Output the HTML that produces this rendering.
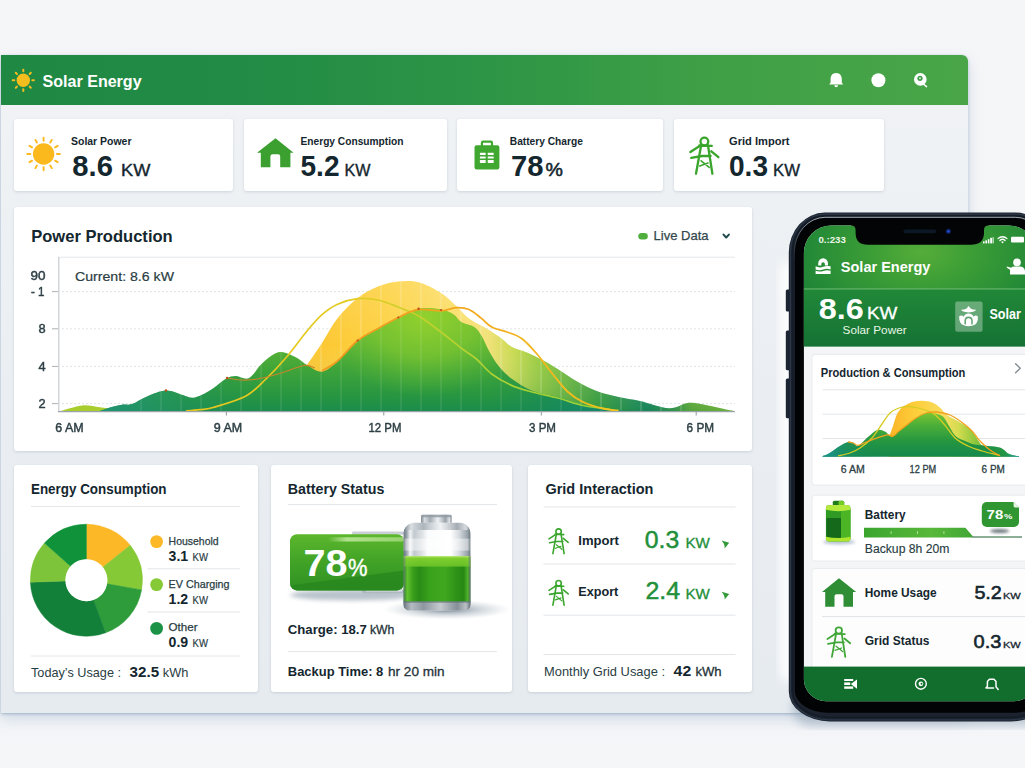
<!DOCTYPE html>
<html lang="en">
<head>
<meta charset="utf-8">
<title>Solar Energy Dashboard</title>
<style>
*{margin:0;padding:0;box-sizing:border-box}
html,body{width:1025px;height:768px;overflow:hidden;background:#f3f4f7}
body{font-family:"Liberation Sans",sans-serif;color:#14262e}
#stage{position:relative;width:1025px;height:768px;overflow:hidden;
  background:linear-gradient(180deg,#f5f6f8 0%,#f4f5f7 70%,#f3f5f8 94%,#f4f6f8 100%)}
#win{position:absolute;left:1px;top:54.5px;width:967px;height:658.5px;background:linear-gradient(180deg,#f1f3f5 0%,#eef1f4 22%,#eaeef2 55%,#e6ebf0 100%);
  border-radius:0 6px 0 0;box-shadow:0 1px 3px rgba(135,160,185,.7),0 6px 14px rgba(150,172,196,.38),1px 0 0 rgba(255,255,255,.9)}
#hdr{position:absolute;left:0;top:0;width:967px;height:50px;border-radius:0 6px 0 0;
  background:linear-gradient(90deg,#1f8944 0%,#228b45 25%,#2d9546 50%,#40a046 75%,#49a548 100%)}
.card{position:absolute;background:#fff;border-radius:3px;box-shadow:0 1px 3px rgba(120,135,155,.28)}
svg{position:absolute;left:0;top:0;overflow:visible}
text{font-family:"Liberation Sans",sans-serif}
.d{fill:#14262e}
.sb{font-weight:bold}
</style>
</head>
<body>
<div id="stage">
  <div id="win">
    <div id="hdr"></div>
  </div>
  <!-- stat cards -->
  <div class="card" style="left:14px;top:119px;width:219px;height:72px"></div>
  <div class="card" style="left:244px;top:119px;width:203px;height:72px"></div>
  <div class="card" style="left:457px;top:119px;width:206px;height:72px"></div>
  <div class="card" style="left:674px;top:119px;width:210px;height:72px"></div>
  <!-- chart panel -->
  <div class="card" style="left:14px;top:207px;width:738px;height:244px"></div>
  <!-- bottom panels -->
  <div class="card" style="left:14px;top:465px;width:244px;height:227px"></div>
  <div class="card" style="left:271px;top:465px;width:241px;height:227px"></div>
  <div class="card" style="left:528px;top:465px;width:224px;height:227px"></div>

  <svg id="main" width="1025" height="768" viewBox="0 0 1025 768">
    <defs></defs>
    <!--HEADER-->
    <g id="hdr-sun" transform="translate(23.3,80.3)"><g stroke="#f6bd1e" stroke-width="2" stroke-linecap="round"><line x1="0.00" y1="-9.00" x2="0.00" y2="-10.60"/><line x1="6.36" y1="-6.36" x2="7.50" y2="-7.50"/><line x1="9.00" y1="-0.00" x2="10.60" y2="-0.00"/><line x1="6.36" y1="6.36" x2="7.50" y2="7.50"/><line x1="0.00" y1="9.00" x2="0.00" y2="10.60"/><line x1="-6.36" y1="6.36" x2="-7.50" y2="7.50"/><line x1="-9.00" y1="0.00" x2="-10.60" y2="0.00"/><line x1="-6.36" y1="-6.36" x2="-7.50" y2="-7.50"/></g><circle r="6.7" fill="#f6bd1e"/></g>
    <text x="42.6" y="87" font-size="16.5" font-weight="bold" fill="#fff" textLength="99" lengthAdjust="spacingAndGlyphs">Solar Energy</text>
    <!-- bell -->
    <path d="M836.2 73 c-3.8 0 -5.6 2.9 -5.6 6.2 v3.2 l-1.3 2.1 h13.8 l-1.3 -2.1 v-3.2 c0 -3.3 -1.8 -6.2 -5.6 -6.2 z M834.4 85.2 h3.6 v0.4 a1.8 1.6 0 0 1 -3.6 0 z" fill="#fff"/>
    <circle cx="878.4" cy="80.2" r="7" fill="#fff"/>
    <g>
      <circle cx="920.3" cy="79.4" r="6.3" fill="#fff"/>
      <path d="M923.5 84 l3 2.6" stroke="#fff" stroke-width="1.6" stroke-linecap="round"/>
      <circle cx="920" cy="78.3" r="2.6" fill="#3d9d47"/>
      <circle cx="920" cy="78.3" r="1" fill="#d8efd8"/>
    </g>
    <!--STATS-->
    <g id="sun1" transform="translate(43.6,154)"><g stroke="#fbb91e" stroke-width="1.9" stroke-linecap="round"><line x1="0.00" y1="-13.30" x2="0.00" y2="-16.30"/><line x1="6.65" y1="-11.52" x2="8.15" y2="-14.12"/><line x1="11.52" y1="-6.65" x2="14.12" y2="-8.15"/><line x1="13.30" y1="-0.00" x2="16.30" y2="-0.00"/><line x1="11.52" y1="6.65" x2="14.12" y2="8.15"/><line x1="6.65" y1="11.52" x2="8.15" y2="14.12"/><line x1="0.00" y1="13.30" x2="0.00" y2="16.30"/><line x1="-6.65" y1="11.52" x2="-8.15" y2="14.12"/><line x1="-11.52" y1="6.65" x2="-14.12" y2="8.15"/><line x1="-13.30" y1="0.00" x2="-16.30" y2="0.00"/><line x1="-11.52" y1="-6.65" x2="-14.12" y2="-8.15"/><line x1="-6.65" y1="-11.52" x2="-8.15" y2="-14.12"/></g><circle r="10.7" fill="#fbb91e"/></g>
    <text class="d sb" x="71" y="145.3" font-size="11" textLength="60.5" lengthAdjust="spacingAndGlyphs">Solar Power</text>
    <text class="d sb" x="72.3" y="175.8" font-size="29" textLength="40.6" lengthAdjust="spacingAndGlyphs">8.6</text>
    <text class="d" stroke="#14262e" stroke-width=".35" x="121" y="175.8" font-size="16" textLength="29.3" lengthAdjust="spacingAndGlyphs">KW</text>

    <!-- house -->
    <path d="M275.5 138.3 L293.6 152.8 H290.4 V167.2 H280.2 V156.4 q0 -2.100 -2.100 -2.100 h-5.600 q-2.100 0 -2.100 2.100 V167.2 H260.8 V152.8 H257 Z" fill="#3ba02f"/>
    <text class="d sb" x="300.5" y="145.3" font-size="11" textLength="103" lengthAdjust="spacingAndGlyphs">Energy Consumption</text>
    <text class="d sb" x="300.5" y="175.8" font-size="29" textLength="39" lengthAdjust="spacingAndGlyphs">5.2</text>
    <text class="d" stroke="#14262e" stroke-width=".35" x="344.5" y="175.8" font-size="16" textLength="26" lengthAdjust="spacingAndGlyphs">KW</text>

    <!-- battery case icon -->
    <g>
      <rect x="474.5" y="145.3" width="24.9" height="24.1" rx="2.2" fill="#40a730"/>
      <path d="M481.9 146 v-3 a1.300 1.300 0 0 1 1.300 -1.300 h7.500 a1.300 1.300 0 0 1 1.300 1.300 v3" fill="none" stroke="#40a730" stroke-width="2.2"/>
      <g fill="#fff">
        <rect x="479.9" y="152.700" width="5.800" height="2.200" rx=".4"/><rect x="487.700" y="152.700" width="6" height="2.200" rx=".4"/>
        <rect x="479.9" y="156.400" width="5.800" height="2.200" rx=".4"/><rect x="487.700" y="156.400" width="6" height="2.200" rx=".4"/>
        <rect x="479.9" y="160" width="5.800" height="2.900" rx=".4"/><rect x="487.700" y="160" width="6" height="2.900" rx=".4"/>
      </g>
    </g>
    <text class="d sb" x="509.8" y="145.3" font-size="11" textLength="73" lengthAdjust="spacingAndGlyphs">Battery Charge</text>
    <text class="d sb" x="511" y="175.8" font-size="29" textLength="32.5" lengthAdjust="spacingAndGlyphs">78</text>
    <text class="d" x="545.6" y="175.8" font-size="17.5" stroke="#14262e" stroke-width=".5" textLength="17.4" lengthAdjust="spacingAndGlyphs">%</text>

    <!-- tower icon -->
    <g fill="none" stroke="#3aa52c" stroke-width="2.3" stroke-linecap="round" stroke-linejoin="round">
      <circle cx="704.4" cy="141.5" r="3.9"/>
      <path d="M699.3 145.5 L711.8 145.9 M700.4 145.5 L690.4 152.0 M711.3 151.3 L718.4 157.2 M691.2 157.9 L701.9 156.0 L710.6 156.0"/>
      <path d="M701.1 145.5 L696.0 173.7 M708.0 145.5 L712.4 173.7"/>
      <path d="M699.7 165.9 L708.0 163.0 M701.1 160.8 L709.2 167.4" stroke-width="1.61"/>
    </g>
    <text class="d sb" x="729" y="145.3" font-size="11" textLength="60.5" lengthAdjust="spacingAndGlyphs">Grid Import</text>
    <text class="d sb" x="729" y="175.8" font-size="29" textLength="39" lengthAdjust="spacingAndGlyphs">0.3</text>
    <text class="d" stroke="#14262e" stroke-width=".35" x="773" y="175.8" font-size="16" textLength="27" lengthAdjust="spacingAndGlyphs">KW</text>
    <!--CHART-->
    <defs>
      <linearGradient id="gMain" gradientUnits="userSpaceOnUse" x1="0" y1="305" x2="0" y2="411">
        <stop offset="0" stop-color="#88cb30"/><stop offset=".3" stop-color="#64b934"/><stop offset=".58" stop-color="#42a639"/><stop offset=".84" stop-color="#299740"/><stop offset="1" stop-color="#1b8c4c"/>
      </linearGradient>
      <linearGradient id="gTeal" gradientUnits="userSpaceOnUse" x1="100" y1="0" x2="640" y2="0">
        <stop offset="0" stop-color="#1f937a" stop-opacity=".9"/><stop offset=".12" stop-color="#25966a" stop-opacity=".55"/><stop offset=".3" stop-color="#1c8f50" stop-opacity="0"/><stop offset=".72" stop-color="#178a58" stop-opacity="0"/><stop offset=".9" stop-color="#13876a" stop-opacity=".8"/><stop offset="1" stop-color="#13876a" stop-opacity=".9"/>
      </linearGradient>
      <linearGradient id="gBack" gradientUnits="userSpaceOnUse" x1="300" y1="0" x2="735" y2="0">
        <stop offset="0" stop-color="#fcc52e"/><stop offset=".2" stop-color="#fdd244"/><stop offset=".36" stop-color="#fbdf6c"/><stop offset=".43" stop-color="#f3e27a"/><stop offset=".49" stop-color="#c9da52"/><stop offset=".56" stop-color="#8fc83c"/><stop offset=".68" stop-color="#45a73e"/><stop offset=".8" stop-color="#1d8d62"/><stop offset=".86" stop-color="#3f9f50"/><stop offset=".9" stop-color="#72b83a"/><stop offset="1" stop-color="#8cc63c"/>
      </linearGradient>
      <linearGradient id="gBackV" gradientUnits="userSpaceOnUse" x1="0" y1="280" x2="0" y2="411">
        <stop offset="0" stop-color="#fff" stop-opacity=".12"/><stop offset=".5" stop-color="#fff" stop-opacity="0"/><stop offset="1" stop-color="#0a6a40" stop-opacity=".25"/>
      </linearGradient>
      <linearGradient id="gLineY" gradientUnits="userSpaceOnUse" x1="165" y1="0" x2="610" y2="0">
        <stop offset="0" stop-color="#e6c51c"/><stop offset=".45" stop-color="#e2cc24"/><stop offset=".62" stop-color="#b9d230"/><stop offset="1" stop-color="#8ccf38"/>
      </linearGradient>
      <radialGradient id="gLime" gradientUnits="userSpaceOnUse" cx="425" cy="318" r="105" gradientTransform="translate(425 318) scale(1 .75) translate(-425 -318)">
        <stop offset="0" stop-color="#93d12d" stop-opacity=".95"/><stop offset=".5" stop-color="#7cc530" stop-opacity=".75"/><stop offset="1" stop-color="#5ab534" stop-opacity="0"/>
      </radialGradient>
      <linearGradient id="gLineO" gradientUnits="userSpaceOnUse" x1="322" y1="0" x2="620" y2="0">
        <stop offset="0" stop-color="#ee9a20"/><stop offset=".45" stop-color="#f2a61e"/><stop offset=".75" stop-color="#f3b81c"/><stop offset="1" stop-color="#efc620"/>
      </linearGradient>
      <clipPath id="cMain"><path d="M100.0 411.0 C101.7 410.4 106.3 408.5 110.0 407.5 C113.7 406.5 118.3 405.4 122.0 404.8 C125.7 404.2 127.8 405.4 132.0 404.0 C136.2 402.6 141.3 398.6 147.0 396.4 C152.7 394.2 160.1 390.8 166.0 390.6 C171.9 390.4 178.0 393.8 182.7 395.0 C187.4 396.2 189.3 398.5 194.0 397.7 C198.7 396.9 205.3 393.2 210.6 390.0 C215.9 386.8 221.8 381.0 226.0 378.7 C230.2 376.4 232.2 376.1 236.0 376.0 C239.8 375.9 244.5 380.2 248.7 378.3 C252.9 376.4 257.3 368.2 261.0 364.5 C264.7 360.8 267.6 358.1 271.0 356.0 C274.4 353.9 277.2 351.7 281.5 352.0 C285.8 352.3 292.4 355.5 296.7 357.7 C300.9 359.9 302.8 362.7 307.0 365.0 C311.2 367.3 316.9 372.3 322.0 371.7 C327.1 371.1 331.4 366.7 337.4 361.5 C343.3 356.3 350.9 346.2 357.7 340.7 C364.5 335.2 371.2 332.3 378.0 328.5 C384.8 324.7 391.5 321.2 398.3 317.9 C405.1 314.6 411.5 310.1 418.6 308.7 C425.7 307.3 435.2 308.5 441.0 309.5 C446.8 310.5 450.3 312.5 453.6 314.6 C456.9 316.7 457.6 319.9 461.0 322.0 C464.4 324.1 470.6 324.7 474.0 327.0 C477.4 329.3 479.0 332.0 481.5 336.0 C484.0 340.0 486.1 345.9 489.0 351.0 C491.9 356.1 495.2 361.9 499.0 366.6 C502.8 371.3 506.5 375.0 512.0 379.0 C517.5 383.0 524.4 387.7 532.0 390.7 C539.6 393.7 549.2 394.7 557.7 397.0 C566.2 399.3 574.6 402.6 583.0 404.7 C591.4 406.8 598.5 408.6 608.0 409.7 C617.5 410.8 634.7 410.8 640.0 411.0 L640.0 411.2 L100.0 411.2 Z"/></clipPath>
      <clipPath id="cBack"><path d="M307.0 365.0 C309.5 361.3 317.0 350.7 322.0 343.0 C327.0 335.3 331.1 326.5 337.0 319.0 C342.9 311.5 350.9 303.4 357.7 298.0 C364.5 292.6 371.3 289.3 378.0 286.6 C384.7 283.9 391.2 282.3 398.0 281.6 C404.8 280.9 411.4 280.4 418.6 282.3 C425.8 284.2 434.8 289.1 441.0 293.0 C447.2 296.9 451.3 301.5 456.0 305.7 C460.7 309.9 463.9 314.6 469.0 318.4 C474.1 322.2 481.1 325.1 486.6 328.5 C492.1 331.9 497.8 335.6 502.0 338.7 C506.2 341.8 507.8 344.7 512.0 347.0 C516.2 349.3 521.9 350.4 527.0 352.6 C532.1 354.8 537.3 357.3 542.4 360.0 C547.5 362.7 551.8 365.3 557.7 369.0 C563.6 372.7 571.3 378.2 578.0 382.0 C584.7 385.8 591.2 389.0 598.0 391.5 C604.8 394.0 611.6 395.4 618.6 397.0 C625.6 398.6 631.6 399.1 640.0 401.0 C648.4 402.9 660.9 408.0 669.0 408.3 C677.1 408.6 682.3 403.3 688.8 402.8 C695.3 402.3 700.9 404.1 708.0 405.4 C715.1 406.7 727.2 409.7 731.7 410.6 C736.2 411.5 734.5 410.9 735.0 411.0 L735.0 411.2 L307.0 411.2 Z"/></clipPath>
    </defs>
    <text class="d sb" x="31.2" y="241.6" font-size="16.5" textLength="141.5" lengthAdjust="spacingAndGlyphs">Power Production</text>
    <rect x="638.3" y="233" width="9.5" height="6.6" rx="3.3" fill="#4fae3c"/>
    <text x="653.6" y="240.4" font-size="13" fill="#33474d" stroke="#33474d" stroke-width=".25" textLength="55" lengthAdjust="spacingAndGlyphs">Live Data</text>
    <path d="M723.5 234.6 l2.7 2.9 l2.7 -2.9" fill="none" stroke="#1f4a4c" stroke-width="2" stroke-linecap="round" stroke-linejoin="round"/>
    <line x1="58.5" y1="257.2" x2="735" y2="257.2" stroke="#e4e7ea" stroke-width="1"/>
    <g stroke="#e1e4e7" stroke-width="1" stroke-dasharray="2 2">
      <line x1="62" y1="291.6" x2="735" y2="291.6"/><line x1="62" y1="328.8" x2="735" y2="328.8"/>
      <line x1="62" y1="366.4" x2="735" y2="366.4"/><line x1="62" y1="403.6" x2="735" y2="403.6"/>
    </g>
    <g stroke="#aab1b6" stroke-width="1">
      <line x1="52" y1="291.6" x2="58" y2="291.6"/><line x1="52" y1="328.8" x2="58" y2="328.8"/>
      <line x1="52" y1="366.4" x2="58" y2="366.4"/><line x1="52" y1="403.6" x2="58" y2="403.6"/>
    </g>
    <line x1="58.8" y1="257" x2="58.8" y2="412" stroke="#c7ccd0" stroke-width="1.2"/>
    <g font-size="12.8" fill="#22353b" stroke="#22353b" stroke-width=".45" opacity=".95">
      <text x="30.6" y="280.2" textLength="15" lengthAdjust="spacingAndGlyphs">90</text>
      <text x="31" y="295.8" textLength="13.5" lengthAdjust="spacingAndGlyphs">- 1</text>
      <text x="38.6" y="333.3">8</text><text x="38.6" y="371">4</text><text x="38.6" y="408.2">2</text>
    </g>
    <text x="75" y="280.5" font-size="13" fill="#2a3d43" stroke="#2a3d43" stroke-width=".2" textLength="99" lengthAdjust="spacingAndGlyphs">Current: 8.6 kW</text>
    <!-- areas -->
    <path d="M61.0 411.0 C62.5 410.6 66.2 409.2 70.0 408.3 C73.8 407.4 79.0 405.5 84.0 405.3 C89.0 405.1 95.3 406.7 100.0 407.3 C104.7 407.9 107.8 408.4 112.0 409.0 C116.2 409.6 122.8 410.7 125.0 411.0 L125.0 411.2 L61.0 411.2 Z" fill="#a9cd2e"/>
    <path d="M307.0 365.0 C309.5 361.3 317.0 350.7 322.0 343.0 C327.0 335.3 331.1 326.5 337.0 319.0 C342.9 311.5 350.9 303.4 357.7 298.0 C364.5 292.6 371.3 289.3 378.0 286.6 C384.7 283.9 391.2 282.3 398.0 281.6 C404.8 280.9 411.4 280.4 418.6 282.3 C425.8 284.2 434.8 289.1 441.0 293.0 C447.2 296.9 451.3 301.5 456.0 305.7 C460.7 309.9 463.9 314.6 469.0 318.4 C474.1 322.2 481.1 325.1 486.6 328.5 C492.1 331.9 497.8 335.6 502.0 338.7 C506.2 341.8 507.8 344.7 512.0 347.0 C516.2 349.3 521.9 350.4 527.0 352.6 C532.1 354.8 537.3 357.3 542.4 360.0 C547.5 362.7 551.8 365.3 557.7 369.0 C563.6 372.7 571.3 378.2 578.0 382.0 C584.7 385.8 591.2 389.0 598.0 391.5 C604.8 394.0 611.6 395.4 618.6 397.0 C625.6 398.6 631.6 399.1 640.0 401.0 C648.4 402.9 660.9 408.0 669.0 408.3 C677.1 408.6 682.3 403.3 688.8 402.8 C695.3 402.3 700.9 404.1 708.0 405.4 C715.1 406.7 727.2 409.7 731.7 410.6 C736.2 411.5 734.5 410.9 735.0 411.0 L735.0 411.2 L307.0 411.2 Z" fill="url(#gBack)"/>
    <path d="M307.0 365.0 C309.5 361.3 317.0 350.7 322.0 343.0 C327.0 335.3 331.1 326.5 337.0 319.0 C342.9 311.5 350.9 303.4 357.7 298.0 C364.5 292.6 371.3 289.3 378.0 286.6 C384.7 283.9 391.2 282.3 398.0 281.6 C404.8 280.9 411.4 280.4 418.6 282.3 C425.8 284.2 434.8 289.1 441.0 293.0 C447.2 296.9 451.3 301.5 456.0 305.7 C460.7 309.9 463.9 314.6 469.0 318.4 C474.1 322.2 481.1 325.1 486.6 328.5 C492.1 331.9 497.8 335.6 502.0 338.7 C506.2 341.8 507.8 344.7 512.0 347.0 C516.2 349.3 521.9 350.4 527.0 352.6 C532.1 354.8 537.3 357.3 542.4 360.0 C547.5 362.7 551.8 365.3 557.7 369.0 C563.6 372.7 571.3 378.2 578.0 382.0 C584.7 385.8 591.2 389.0 598.0 391.5 C604.8 394.0 611.6 395.4 618.6 397.0 C625.6 398.6 631.6 399.1 640.0 401.0 C648.4 402.9 660.9 408.0 669.0 408.3 C677.1 408.6 682.3 403.3 688.8 402.8 C695.3 402.3 700.9 404.1 708.0 405.4 C715.1 406.7 727.2 409.7 731.7 410.6 C736.2 411.5 734.5 410.9 735.0 411.0 L735.0 411.2 L307.0 411.2 Z" fill="url(#gBackV)"/>
    <g clip-path="url(#cBack)" stroke="#fff" stroke-opacity=".3" stroke-width="1"><line x1="141" y1="275" x2="141" y2="411"/><line x1="161" y1="275" x2="161" y2="411"/><line x1="181" y1="275" x2="181" y2="411"/><line x1="201" y1="275" x2="201" y2="411"/><line x1="221" y1="275" x2="221" y2="411"/><line x1="241" y1="275" x2="241" y2="411"/><line x1="261" y1="275" x2="261" y2="411"/><line x1="281" y1="275" x2="281" y2="411"/><line x1="301" y1="275" x2="301" y2="411"/><line x1="321" y1="275" x2="321" y2="411"/><line x1="341" y1="275" x2="341" y2="411"/><line x1="361" y1="275" x2="361" y2="411"/><line x1="381" y1="275" x2="381" y2="411"/><line x1="401" y1="275" x2="401" y2="411"/><line x1="421" y1="275" x2="421" y2="411"/><line x1="441" y1="275" x2="441" y2="411"/><line x1="461" y1="275" x2="461" y2="411"/><line x1="481" y1="275" x2="481" y2="411"/><line x1="501" y1="275" x2="501" y2="411"/><line x1="521" y1="275" x2="521" y2="411"/><line x1="541" y1="275" x2="541" y2="411"/><line x1="561" y1="275" x2="561" y2="411"/><line x1="581" y1="275" x2="581" y2="411"/><line x1="601" y1="275" x2="601" y2="411"/><line x1="621" y1="275" x2="621" y2="411"/><line x1="641" y1="275" x2="641" y2="411"/><line x1="661" y1="275" x2="661" y2="411"/><line x1="681" y1="275" x2="681" y2="411"/></g>
    <path d="M100.0 411.0 C101.7 410.4 106.3 408.5 110.0 407.5 C113.7 406.5 118.3 405.4 122.0 404.8 C125.7 404.2 127.8 405.4 132.0 404.0 C136.2 402.6 141.3 398.6 147.0 396.4 C152.7 394.2 160.1 390.8 166.0 390.6 C171.9 390.4 178.0 393.8 182.7 395.0 C187.4 396.2 189.3 398.5 194.0 397.7 C198.7 396.9 205.3 393.2 210.6 390.0 C215.9 386.8 221.8 381.0 226.0 378.7 C230.2 376.4 232.2 376.1 236.0 376.0 C239.8 375.9 244.5 380.2 248.7 378.3 C252.9 376.4 257.3 368.2 261.0 364.5 C264.7 360.8 267.6 358.1 271.0 356.0 C274.4 353.9 277.2 351.7 281.5 352.0 C285.8 352.3 292.4 355.5 296.7 357.7 C300.9 359.9 302.8 362.7 307.0 365.0 C311.2 367.3 316.9 372.3 322.0 371.7 C327.1 371.1 331.4 366.7 337.4 361.5 C343.3 356.3 350.9 346.2 357.7 340.7 C364.5 335.2 371.2 332.3 378.0 328.5 C384.8 324.7 391.5 321.2 398.3 317.9 C405.1 314.6 411.5 310.1 418.6 308.7 C425.7 307.3 435.2 308.5 441.0 309.5 C446.8 310.5 450.3 312.5 453.6 314.6 C456.9 316.7 457.6 319.9 461.0 322.0 C464.4 324.1 470.6 324.7 474.0 327.0 C477.4 329.3 479.0 332.0 481.5 336.0 C484.0 340.0 486.1 345.9 489.0 351.0 C491.9 356.1 495.2 361.9 499.0 366.6 C502.8 371.3 506.5 375.0 512.0 379.0 C517.5 383.0 524.4 387.7 532.0 390.7 C539.6 393.7 549.2 394.7 557.7 397.0 C566.2 399.3 574.6 402.6 583.0 404.7 C591.4 406.8 598.5 408.6 608.0 409.7 C617.5 410.8 634.7 410.8 640.0 411.0 L640.0 411.2 L100.0 411.2 Z" fill="url(#gMain)"/>
    <path d="M100.0 411.0 C101.7 410.4 106.3 408.5 110.0 407.5 C113.7 406.5 118.3 405.4 122.0 404.8 C125.7 404.2 127.8 405.4 132.0 404.0 C136.2 402.6 141.3 398.6 147.0 396.4 C152.7 394.2 160.1 390.8 166.0 390.6 C171.9 390.4 178.0 393.8 182.7 395.0 C187.4 396.2 189.3 398.5 194.0 397.7 C198.7 396.9 205.3 393.2 210.6 390.0 C215.9 386.8 221.8 381.0 226.0 378.7 C230.2 376.4 232.2 376.1 236.0 376.0 C239.8 375.9 244.5 380.2 248.7 378.3 C252.9 376.4 257.3 368.2 261.0 364.5 C264.7 360.8 267.6 358.1 271.0 356.0 C274.4 353.9 277.2 351.7 281.5 352.0 C285.8 352.3 292.4 355.5 296.7 357.7 C300.9 359.9 302.8 362.7 307.0 365.0 C311.2 367.3 316.9 372.3 322.0 371.7 C327.1 371.1 331.4 366.7 337.4 361.5 C343.3 356.3 350.9 346.2 357.7 340.7 C364.5 335.2 371.2 332.3 378.0 328.5 C384.8 324.7 391.5 321.2 398.3 317.9 C405.1 314.6 411.5 310.1 418.6 308.7 C425.7 307.3 435.2 308.5 441.0 309.5 C446.8 310.5 450.3 312.5 453.6 314.6 C456.9 316.7 457.6 319.9 461.0 322.0 C464.4 324.1 470.6 324.7 474.0 327.0 C477.4 329.3 479.0 332.0 481.5 336.0 C484.0 340.0 486.1 345.9 489.0 351.0 C491.9 356.1 495.2 361.9 499.0 366.6 C502.8 371.3 506.5 375.0 512.0 379.0 C517.5 383.0 524.4 387.7 532.0 390.7 C539.6 393.7 549.2 394.7 557.7 397.0 C566.2 399.3 574.6 402.6 583.0 404.7 C591.4 406.8 598.5 408.6 608.0 409.7 C617.5 410.8 634.7 410.8 640.0 411.0 L640.0 411.2 L100.0 411.2 Z" fill="url(#gLime)"/>
    <path d="M100.0 411.0 C101.7 410.4 106.3 408.5 110.0 407.5 C113.7 406.5 118.3 405.4 122.0 404.8 C125.7 404.2 127.8 405.4 132.0 404.0 C136.2 402.6 141.3 398.6 147.0 396.4 C152.7 394.2 160.1 390.8 166.0 390.6 C171.9 390.4 178.0 393.8 182.7 395.0 C187.4 396.2 189.3 398.5 194.0 397.7 C198.7 396.9 205.3 393.2 210.6 390.0 C215.9 386.8 221.8 381.0 226.0 378.7 C230.2 376.4 232.2 376.1 236.0 376.0 C239.8 375.9 244.5 380.2 248.7 378.3 C252.9 376.4 257.3 368.2 261.0 364.5 C264.7 360.8 267.6 358.1 271.0 356.0 C274.4 353.9 277.2 351.7 281.5 352.0 C285.8 352.3 292.4 355.5 296.7 357.7 C300.9 359.9 302.8 362.7 307.0 365.0 C311.2 367.3 316.9 372.3 322.0 371.7 C327.1 371.1 331.4 366.7 337.4 361.5 C343.3 356.3 350.9 346.2 357.7 340.7 C364.5 335.2 371.2 332.3 378.0 328.5 C384.8 324.7 391.5 321.2 398.3 317.9 C405.1 314.6 411.5 310.1 418.6 308.7 C425.7 307.3 435.2 308.5 441.0 309.5 C446.8 310.5 450.3 312.5 453.6 314.6 C456.9 316.7 457.6 319.9 461.0 322.0 C464.4 324.1 470.6 324.7 474.0 327.0 C477.4 329.3 479.0 332.0 481.5 336.0 C484.0 340.0 486.1 345.9 489.0 351.0 C491.9 356.1 495.2 361.9 499.0 366.6 C502.8 371.3 506.5 375.0 512.0 379.0 C517.5 383.0 524.4 387.7 532.0 390.7 C539.6 393.7 549.2 394.7 557.7 397.0 C566.2 399.3 574.6 402.6 583.0 404.7 C591.4 406.8 598.5 408.6 608.0 409.7 C617.5 410.8 634.7 410.8 640.0 411.0 L640.0 411.2 L100.0 411.2 Z" fill="url(#gTeal)"/>
    <g clip-path="url(#cMain)" stroke="#fff" stroke-opacity=".16" stroke-width="1"><line x1="141" y1="275" x2="141" y2="411"/><line x1="161" y1="275" x2="161" y2="411"/><line x1="181" y1="275" x2="181" y2="411"/><line x1="201" y1="275" x2="201" y2="411"/><line x1="221" y1="275" x2="221" y2="411"/><line x1="241" y1="275" x2="241" y2="411"/><line x1="261" y1="275" x2="261" y2="411"/><line x1="281" y1="275" x2="281" y2="411"/><line x1="301" y1="275" x2="301" y2="411"/><line x1="321" y1="275" x2="321" y2="411"/><line x1="341" y1="275" x2="341" y2="411"/><line x1="361" y1="275" x2="361" y2="411"/><line x1="381" y1="275" x2="381" y2="411"/><line x1="401" y1="275" x2="401" y2="411"/><line x1="421" y1="275" x2="421" y2="411"/><line x1="441" y1="275" x2="441" y2="411"/><line x1="461" y1="275" x2="461" y2="411"/><line x1="481" y1="275" x2="481" y2="411"/><line x1="501" y1="275" x2="501" y2="411"/><line x1="521" y1="275" x2="521" y2="411"/><line x1="541" y1="275" x2="541" y2="411"/><line x1="561" y1="275" x2="561" y2="411"/><line x1="581" y1="275" x2="581" y2="411"/><line x1="601" y1="275" x2="601" y2="411"/><line x1="621" y1="275" x2="621" y2="411"/><line x1="641" y1="275" x2="641" y2="411"/><line x1="661" y1="275" x2="661" y2="411"/><line x1="681" y1="275" x2="681" y2="411"/></g>
    <path d="M186.0 411.0 C188.3 410.8 195.5 410.2 200.0 409.6 C204.5 409.0 205.3 409.8 213.0 407.5 C220.7 405.2 237.2 400.8 246.0 396.0 C254.8 391.2 259.2 385.5 266.0 379.0 C272.8 372.5 279.8 365.0 286.6 357.0 C293.4 349.0 301.1 338.1 307.0 331.0 C312.9 323.9 317.0 319.0 322.0 314.6 C327.0 310.2 331.1 307.1 337.0 304.4 C342.9 301.7 350.9 299.3 357.7 298.6 C364.5 297.9 371.3 298.6 378.0 300.0 C384.7 301.4 391.2 304.3 398.0 307.0 C404.8 309.7 411.4 311.8 418.6 316.0 C425.8 320.2 433.9 326.7 441.0 332.0 C448.1 337.3 455.1 343.5 461.0 348.0 C466.9 352.5 471.3 354.7 476.4 359.0 C481.5 363.3 485.8 369.6 491.7 374.0 C497.6 378.4 505.3 382.6 512.0 385.6 C518.7 388.6 524.4 389.9 532.0 392.0 C539.6 394.1 549.2 395.8 557.7 398.0 C566.2 400.2 574.3 403.6 583.0 405.5 C591.7 407.4 605.5 408.8 610.0 409.5" fill="none" stroke="url(#gLineY)" stroke-width="1.7"/>
    <path d="M227.0 378.0 C229.2 378.3 235.2 379.8 240.0 380.0 C244.8 380.2 249.1 380.5 256.0 379.3 C262.9 378.1 273.5 375.3 281.5 373.0 C289.5 370.7 298.4 366.3 304.0 365.5 C309.6 364.7 313.2 367.6 315.0 368.0" fill="none" stroke="#c8862a" stroke-width="1.1"/>
    <path d="M322.0 371.0 C324.6 369.3 331.4 366.1 337.4 361.0 C343.3 355.9 350.9 345.9 357.7 340.5 C364.5 335.1 371.2 332.3 378.0 328.5 C384.8 324.7 391.6 320.7 398.3 317.5 C405.0 314.3 410.9 310.6 418.0 309.5 C425.1 308.4 434.7 311.1 441.0 310.8 C447.3 310.5 451.3 307.9 456.0 307.7 C460.7 307.5 464.8 307.7 469.0 309.5 C473.2 311.3 477.7 315.5 481.5 318.4 C485.3 321.3 487.4 324.7 491.7 327.0 C495.9 329.3 501.9 330.1 507.0 332.0 C512.0 333.9 517.0 335.0 522.0 338.7 C527.0 342.4 531.9 348.1 537.0 354.0 C542.1 359.9 547.4 367.7 552.6 374.0 C557.8 380.3 562.9 387.3 568.0 392.0 C573.1 396.7 577.2 399.2 583.0 402.0 C588.8 404.8 597.1 407.1 603.0 408.5 C608.9 409.9 616.0 410.2 618.6 410.5" fill="none" stroke="url(#gLineO)" stroke-width="1.8"/>
    <g fill="#c24a1c"><circle cx="166" cy="390.4" r="1.2"/><circle cx="227" cy="378" r="1.2"/><circle cx="357.7" cy="340.5" r="1.1"/><circle cx="398.3" cy="317.5" r="1.1"/><circle cx="418.6" cy="308.8" r="1.2"/><circle cx="441" cy="310" r="1.1"/></g>
    <line x1="58" y1="411.6" x2="735" y2="411.6" stroke="#9aa3a8" stroke-width="1.4"/>
    <g stroke="#8f999e" stroke-width="1"><line x1="226.4" y1="412" x2="226.4" y2="415.5"/><line x1="383.8" y1="412" x2="383.8" y2="415.5"/><line x1="541.3" y1="412" x2="541.3" y2="415.5"/><line x1="696.2" y1="412" x2="696.2" y2="415.5"/></g>
    <g font-size="12.8" fill="#22353b" stroke="#22353b" stroke-width=".45" opacity=".95">
      <text x="55.3" y="432" textLength="28.5" lengthAdjust="spacingAndGlyphs">6 AM</text>
      <text x="213.8" y="432" textLength="28.5" lengthAdjust="spacingAndGlyphs">9 AM</text>
      <text x="368.5" y="432" textLength="33" lengthAdjust="spacingAndGlyphs">12 PM</text>
      <text x="529" y="432" textLength="27" lengthAdjust="spacingAndGlyphs">3 PM</text>
      <text x="686.6" y="432" textLength="27.5" lengthAdjust="spacingAndGlyphs">6 PM</text>
    </g>
    <!--CONSUMPTION-->
    <text class="d sb" x="31" y="494.4" font-size="15" textLength="135.5" lengthAdjust="spacingAndGlyphs">Energy Consumption</text>
    <g stroke="#e3e6e9" stroke-width="1">
      <line x1="31" y1="506.4" x2="240" y2="506.4"/>
      <line x1="147.5" y1="568.8" x2="240" y2="568.8"/>
      <line x1="147.5" y1="612" x2="240" y2="612"/>
      <line x1="31" y1="656" x2="240" y2="656"/>
    </g>
    <path d="M86.40 524.20 A56 56 0 0 1 130.23 545.34 L102.83 567.13 A21 21 0 0 0 86.40 559.20 Z" fill="#fdb827" stroke="#fdb827" stroke-width=".5"/><path d="M130.23 545.34 A56 56 0 0 1 141.55 589.92 L107.08 583.85 A21 21 0 0 0 102.83 567.13 Z" fill="#86c936" stroke="#86c936" stroke-width=".5"/><path d="M141.55 589.92 A56 56 0 0 1 105.55 632.82 L93.58 599.93 A21 21 0 0 0 107.08 583.85 Z" fill="#2e9c3b" stroke="#2e9c3b" stroke-width=".5"/><path d="M105.55 632.82 A56 56 0 0 1 30.43 582.15 L65.41 580.93 A21 21 0 0 0 93.58 599.93 Z" fill="#128038" stroke="#128038" stroke-width=".5"/><path d="M30.43 582.15 A56 56 0 0 1 44.46 543.09 L70.67 566.28 A21 21 0 0 0 65.41 580.93 Z" fill="#7ec43a" stroke="#7ec43a" stroke-width=".5"/><path d="M44.46 543.09 A56 56 0 0 1 86.40 524.20 L86.40 559.20 A21 21 0 0 0 70.67 566.28 Z" fill="#0f9239" stroke="#0f9239" stroke-width=".5"/>
    <circle cx="86.4" cy="580.2" r="21" fill="#fff"/>
    <circle cx="156.6" cy="541.6" r="6.4" fill="#fdb827"/>
    <circle cx="156.6" cy="584.6" r="6.4" fill="#86c936"/>
    <circle cx="156.6" cy="628.4" r="6.4" fill="#1c9247"/>
    <g fill="#2a3d43" font-size="11" stroke="#2a3d43" stroke-width=".25">
      <text x="168.6" y="545" textLength="50" lengthAdjust="spacingAndGlyphs">Household</text>
      <text x="168.6" y="588.4" textLength="61" lengthAdjust="spacingAndGlyphs">EV Charging</text>
      <text x="168.6" y="630.8" textLength="29" lengthAdjust="spacingAndGlyphs">Other</text>
    </g>
    <g class="d sb" font-size="14.5">
      <text x="168.6" y="561" textLength="19.6" lengthAdjust="spacingAndGlyphs">3.1</text>
      <text x="168.6" y="604.2" textLength="19.6" lengthAdjust="spacingAndGlyphs">1.2</text>
      <text x="168.6" y="647" textLength="19.6" lengthAdjust="spacingAndGlyphs">0.9</text>
    </g>
    <g fill="#2a3d43" font-size="10.5" stroke="#2a3d43" stroke-width=".2">
      <text x="192.6" y="561" textLength="15.4" lengthAdjust="spacingAndGlyphs">KW</text>
      <text x="192.6" y="604.2" textLength="15.4" lengthAdjust="spacingAndGlyphs">KW</text>
      <text x="192.6" y="647" textLength="15.4" lengthAdjust="spacingAndGlyphs">KW</text>
    </g>
    <text x="31" y="677.4" font-size="13.5" fill="#2a3d43" textLength="90" lengthAdjust="spacingAndGlyphs">Today’s Usage :</text>
    <text class="d sb" x="129.6" y="677.4" font-size="15" textLength="29.5" lengthAdjust="spacingAndGlyphs">32.5</text>
    <text x="162.8" y="677.4" font-size="13" fill="#2a3d43" textLength="25.6" lengthAdjust="spacingAndGlyphs">kWh</text>
    <!--BATTERY-->
    <defs>
      <linearGradient id="bLabel" x1="0" y1="0" x2="0" y2="1">
        <stop offset="0" stop-color="#5cb72c"/><stop offset=".45" stop-color="#43a427"/><stop offset="1" stop-color="#2f9122"/>
      </linearGradient>
      <linearGradient id="bGloss" x1="0" y1="0" x2="1" y2="0">
        <stop offset="0" stop-color="#d8f3b8" stop-opacity="0"/><stop offset=".25" stop-color="#d0f0b0" stop-opacity=".75"/><stop offset="1" stop-color="#bfe89a" stop-opacity=".6"/>
      </linearGradient>
      <linearGradient id="bMetal" x1="0" y1="0" x2="1" y2="0">
        <stop offset="0" stop-color="#7d878e"/><stop offset=".12" stop-color="#d8dde1"/><stop offset=".3" stop-color="#a4adb4"/><stop offset=".55" stop-color="#eef1f3"/><stop offset=".8" stop-color="#9aa3aa"/><stop offset=".93" stop-color="#dfe3e6"/><stop offset="1" stop-color="#7b858c"/>
      </linearGradient>
      <linearGradient id="bGlass" x1="0" y1="0" x2="1" y2="0">
        <stop offset="0" stop-color="#7d8890"/><stop offset=".05" stop-color="#99a3ab"/><stop offset=".1" stop-color="#f2f4f6"/><stop offset=".16" stop-color="#c2c9ce"/><stop offset=".28" stop-color="#dfe3e6"/><stop offset=".36" stop-color="#fafbfc"/><stop offset=".7" stop-color="#ffffff"/><stop offset=".82" stop-color="#d9dee2"/><stop offset=".92" stop-color="#aab3ba"/><stop offset="1" stop-color="#7f8a92"/>
      </linearGradient>
      <linearGradient id="bLiq" x1="0" y1="0" x2="1" y2="0">
        <stop offset="0" stop-color="#2a8c18"/><stop offset=".06" stop-color="#62c22e"/><stop offset=".14" stop-color="#3a9f1c"/><stop offset=".24" stop-color="#2a8c16"/><stop offset=".4" stop-color="#3aa31c"/><stop offset=".62" stop-color="#3fa81e"/><stop offset=".8" stop-color="#2c9016"/><stop offset=".9" stop-color="#288814"/><stop offset=".96" stop-color="#52b62a"/><stop offset="1" stop-color="#246f14"/>
      </linearGradient>
      <linearGradient id="bLiqTop" x1="0" y1="0" x2="0" y2="1">
        <stop offset="0" stop-color="#8bd631"/><stop offset="1" stop-color="#6cc428"/>
      </linearGradient>
      <radialGradient id="bShadow" cx=".5" cy=".5" r=".5">
        <stop offset="0" stop-color="#4f6272" stop-opacity=".8"/><stop offset=".45" stop-color="#6f8292" stop-opacity=".38"/><stop offset="1" stop-color="#9fb0bb" stop-opacity="0"/>
      </radialGradient>
      <clipPath id="bBody"><path d="M403.4 534.600 a12 12 0 0 1 12 -12 h43.200 a12 12 0 0 1 12 12 V604 a6.600 6.600 0 0 1 -6.600 6.600 H410 a6.600 6.600 0 0 1 -6.600 -6.600 Z"/></clipPath>
      <filter id="blur2" x="-20%" y="-50%" width="140%" height="200%"><feGaussianBlur stdDeviation="2.2"/></filter>
    </defs>
    <text class="d sb" x="287.8" y="494.4" font-size="15" textLength="96.5" lengthAdjust="spacingAndGlyphs">Battery Status</text>
    <g stroke="#e3e6e9" stroke-width="1">
      <line x1="287.8" y1="504.6" x2="497" y2="504.6"/>
      <line x1="287.8" y1="651.6" x2="497" y2="651.6"/>
    </g>
    <!-- shadows -->
    <ellipse cx="447" cy="609.500" rx="64" ry="10" fill="url(#bShadow)"/>
    <ellipse cx="352" cy="595" rx="62" ry="5.500" fill="#8093a2" opacity=".55" filter="url(#blur2)"/>
    <!-- connector bars -->
    <rect x="352" y="531.4" width="52" height="3.4" rx="1.4" fill="#c9d0d5"/>
    <rect x="362" y="589.6" width="42" height="4" rx="1.8" fill="#aeb8bf"/>
    <rect x="366" y="590.2" width="36" height="1.2" fill="#e9edf0"/>
    <!-- label -->
    <rect x="290" y="534.2" width="114" height="56.2" rx="7" fill="url(#bLabel)"/>
    <path d="M290 585.5 L404 570.5 V583.4 a7 7 0 0 1 -7 7 H297 a7 7 0 0 1 -7 -7 Z" fill="#27861d" opacity=".75"/>
    <rect x="328" y="537.2" width="76" height="4.4" rx="2.2" fill="url(#bGloss)"/>
    <text x="303.4" y="576.3" font-size="37" font-weight="bold" fill="#fff" textLength="44" lengthAdjust="spacingAndGlyphs">78</text>
    <text x="348" y="576.3" font-size="23" fill="#fff" stroke="#fff" stroke-width=".4" textLength="19.5" lengthAdjust="spacingAndGlyphs">%</text>
    <!-- jar -->
    <rect x="421" y="514.8" width="30.6" height="10" rx="2.4" fill="url(#bMetal)"/>
    <rect x="421" y="514.8" width="30.6" height="2.4" rx="1.2" fill="#8e989f" opacity=".8"/>
    <g clip-path="url(#bBody)">
      <rect x="403.4" y="522.6" width="67.2" height="88" fill="url(#bGlass)"/>
      <rect x="403.4" y="522.6" width="67.2" height="7.4" fill="url(#bMetal)" opacity=".85"/>
      <rect x="403.4" y="538.6" width="67.2" height="12" fill="#fff" opacity=".45"/>
      <rect x="403.4" y="556.6" width="67.2" height="45.4" fill="url(#bLiq)"/>
      <rect x="403.4" y="556.6" width="67.2" height="10" fill="url(#bLiqTop)" opacity=".9"/>
      <rect x="403.4" y="556.2" width="67.2" height="1.2" fill="#b6ea6a" opacity=".9"/>
      <rect x="403.4" y="601.6" width="67.2" height="9.2" fill="url(#bMetal)"/><rect x="403.4" y="601.6" width="67.2" height="9.2" fill="#4a5862" opacity=".25"/>
      <rect x="403.4" y="601.2" width="67.2" height="1.6" fill="#56666f" opacity=".55"/>
      <rect x="403.4" y="522.6" width="2" height="88" fill="#6e7a83" opacity=".55"/>
      <rect x="468.6" y="522.6" width="2" height="88" fill="#6e7a83" opacity=".55"/>
    </g>
    <text class="d sb" x="287.8" y="634.4" font-size="13.5" textLength="79" lengthAdjust="spacingAndGlyphs">Charge: 18.7</text>
    <text x="370" y="634.4" font-size="12.5" fill="#1f3238" stroke="#1f3238" stroke-width=".3" textLength="24.4" lengthAdjust="spacingAndGlyphs">kWh</text>
    <text class="d sb" x="287.8" y="675.6" font-size="13.5" textLength="95.5" lengthAdjust="spacingAndGlyphs">Backup Time: 8</text>
    <text x="388" y="675.6" font-size="13.5" fill="#1f3238" stroke="#1f3238" stroke-width=".3" textLength="56.6" lengthAdjust="spacingAndGlyphs">hr 20 min</text>
    <!--GRID-->
    <text class="d sb" x="545.4" y="494.4" font-size="15" textLength="108" lengthAdjust="spacingAndGlyphs">Grid Interaction</text>
    <g stroke="#e3e6e9" stroke-width="1">
      <line x1="543.5" y1="507" x2="735.6" y2="507"/>
      <line x1="543.5" y1="564" x2="735.6" y2="564"/>
      <line x1="543.5" y1="615.2" x2="735.6" y2="615.2"/>
      <line x1="543.5" y1="654.5" x2="735.6" y2="654.5"/>
    </g>
    <g fill="none" stroke="#3aa52c" stroke-width="1.6" stroke-linecap="round" stroke-linejoin="round">
      <circle cx="558.6" cy="531.6" r="2.7"/>
      <path d="M555.1 534.3 L563.7 534.6 M555.9 534.3 L549.0 538.8 M563.3 538.3 L568.2 542.3 M549.6 542.8 L556.9 541.5 L562.8 541.5"/>
      <path d="M556.3 534.3 L552.9 553.6 M561.1 534.3 L564.1 553.6"/>
      <path d="M555.4 548.3 L561.1 546.3 M556.3 544.8 L561.9 549.3" stroke-width="1.12"/>
    </g>
    <g fill="none" stroke="#3aa52c" stroke-width="1.6" stroke-linecap="round" stroke-linejoin="round">
      <circle cx="558.6" cy="583.2" r="2.7"/>
      <path d="M555.1 585.9 L563.7 586.2 M555.9 585.9 L549.0 590.4 M563.3 589.9 L568.2 593.9 M549.6 594.4 L556.9 593.1 L562.8 593.1"/>
      <path d="M556.3 585.9 L552.9 605.2 M561.1 585.9 L564.1 605.2"/>
      <path d="M555.4 599.9 L561.1 597.9 M556.3 596.4 L561.9 600.9" stroke-width="1.12"/>
    </g>
    <g class="d sb" font-size="13.5">
      <text x="578.3" y="545" textLength="40.6" lengthAdjust="spacingAndGlyphs">Import</text>
      <text x="578.3" y="595.8" textLength="40" lengthAdjust="spacingAndGlyphs">Export</text>
    </g>
    <g fill="#22903a" font-size="24.5" stroke="#22903a" stroke-width=".5">
      <text x="644.8" y="547.6" textLength="34.4" lengthAdjust="spacingAndGlyphs">0.3</text>
      <text x="645.4" y="598.6" textLength="34.6" lengthAdjust="spacingAndGlyphs">2.4</text>
    </g>
    <g fill="#22903a" font-size="14.5" stroke="#22903a" stroke-width=".3">
      <text x="685.4" y="547.6" textLength="24.4" lengthAdjust="spacingAndGlyphs">KW</text>
      <text x="685.4" y="598.6" textLength="24.4" lengthAdjust="spacingAndGlyphs">KW</text>
    </g>
    <path d="M721.6 540.6 l7.6 2.2 l-4.6 5.6 q0.6 -3.6 -3 -7.8 z" fill="#2f9a36"/>
    <path d="M721.6 591.8 l7.6 2.2 l-4.6 5.6 q0.6 -3.6 -3 -7.8 z" fill="#2f9a36"/>
    <text x="544" y="676" font-size="13.5" fill="#2a3d43" textLength="121" lengthAdjust="spacingAndGlyphs">Monthly Grid Usage :</text>
    <text class="d sb" x="673.6" y="676" font-size="14.5" textLength="17.6" lengthAdjust="spacingAndGlyphs">42</text>
    <text x="695.4" y="676" font-size="13.5" fill="#1f3238" stroke="#1f3238" stroke-width=".3" textLength="26.2" lengthAdjust="spacingAndGlyphs">kWh</text>
  </svg>

  <!--PHONE-->
  <svg id="phone" width="1025" height="768" viewBox="0 0 1025 768">
    <defs>
      <radialGradient id="pHdr" gradientUnits="userSpaceOnUse" cx="922" cy="252" r="150" gradientTransform="translate(922 252) scale(1 .62) translate(-922 -252)">
        <stop offset="0" stop-color="#55ad39"/><stop offset=".35" stop-color="#3b9d36"/><stop offset=".75" stop-color="#258a37"/><stop offset="1" stop-color="#1c7e37"/>
      </radialGradient>
      <linearGradient id="pHdr2" gradientUnits="userSpaceOnUse" x1="0" y1="289" x2="0" y2="346.4">
        <stop offset="0" stop-color="#218838"/><stop offset="1" stop-color="#157234"/>
      </linearGradient>
      <linearGradient id="pRim" x1="0" y1="0" x2="1" y2="0">
        <stop offset="0" stop-color="#4a5561"/><stop offset=".015" stop-color="#252c35"/><stop offset=".04" stop-color="#10151b"/><stop offset="1" stop-color="#05070a"/>
      </linearGradient>
      <linearGradient id="pTopLine" gradientUnits="userSpaceOnUse" x1="0" y1="217" x2="0" y2="262">
        <stop offset="0" stop-color="#a9b2ba" stop-opacity=".95"/><stop offset=".35" stop-color="#8e98a2" stop-opacity=".55"/><stop offset="1" stop-color="#55606c" stop-opacity="0"/>
      </linearGradient>
      <clipPath id="pScreen"><path d="M803.900 253 a27.500 27.500 0 0 1 27.500 -27.500 h177.300 a27.500 27.500 0 0 1 27.500 27.500 V679.200 a22 22 0 0 1 -22 22 H825.900 a22 22 0 0 1 -22 -22 Z"/></clipPath>
      <linearGradient id="mMain" gradientUnits="userSpaceOnUse" x1="0" y1="412" x2="0" y2="457">
        <stop offset="0" stop-color="#7cc632"/><stop offset=".3" stop-color="#4bae38"/><stop offset=".65" stop-color="#259640"/><stop offset="1" stop-color="#15884e"/>
      </linearGradient>
      <linearGradient id="mTeal" gradientUnits="userSpaceOnUse" x1="822" y1="0" x2="1019" y2="0">
        <stop offset="0" stop-color="#1c98a0" stop-opacity=".95"/><stop offset=".12" stop-color="#1a8f70" stop-opacity=".55"/><stop offset=".3" stop-color="#1c8f50" stop-opacity="0"/><stop offset=".78" stop-color="#178a58" stop-opacity="0"/><stop offset=".92" stop-color="#2fa13c" stop-opacity=".5"/><stop offset="1" stop-color="#28a0b4" stop-opacity=".95"/>
      </linearGradient>
      <linearGradient id="mBack" gradientUnits="userSpaceOnUse" x1="889" y1="0" x2="1000" y2="0">
        <stop offset="0" stop-color="#fbb425"/><stop offset=".25" stop-color="#fdcf3c"/><stop offset=".5" stop-color="#f7dc60"/><stop offset=".62" stop-color="#d6dc50"/><stop offset=".78" stop-color="#8cc63c"/><stop offset="1" stop-color="#3da340"/>
      </linearGradient>
      <linearGradient id="pBar" gradientUnits="userSpaceOnUse" x1="864" y1="0" x2="975" y2="0">
        <stop offset="0" stop-color="#3aa52e"/><stop offset=".6" stop-color="#58b83a"/><stop offset="1" stop-color="#3fa535"/>
      </linearGradient>
      <linearGradient id="pBatt" x1="0" y1="0" x2="1" y2="0">
        <stop offset="0" stop-color="#6fc022"/><stop offset=".18" stop-color="#a6e23a"/><stop offset=".4" stop-color="#3d9b22"/><stop offset=".75" stop-color="#2f8a1e"/><stop offset="1" stop-color="#1f6e18"/>
      </linearGradient>
      <filter id="pblur" x="-30%" y="-100%" width="160%" height="300%"><feGaussianBlur stdDeviation="1.6"/></filter>
      <filter id="pshadow" x="-10%" y="-10%" width="120%" height="120%"><feGaussianBlur stdDeviation="5"/></filter>
    </defs>
    <!-- phone glow / shadow -->
    <rect x="792" y="690" width="263" height="36" rx="20" fill="#7f93a6" opacity=".45" filter="url(#pshadow)"/>
    <rect x="779" y="262" width="30" height="420" rx="10" fill="#ffffff" opacity=".8" filter="url(#pshadow)"/>
    <!-- side buttons -->
    <rect x="785.800" y="289.400" width="5" height="22.200" rx="1.500" fill="#1a2433"/>
    <rect x="785.800" y="330.400" width="5" height="39.800" rx="1.500" fill="#1a2433"/>
    <rect x="785.800" y="378.400" width="5" height="39.900" rx="1.500" fill="#1a2433"/>
    <!-- frame -->
    <path d="M788.8 252.6 a36 40 0 0 1 36 -40 H1015.8 a36 40 0 0 1 36 40 V691.4 a41 30 0 0 1 -41 30 H829.8 a41 30 0 0 1 -41 -30 Z" fill="#1c232e"/>
    <path d="M790.4 252.6 a34.4 38.4 0 0 1 34.4 -38.4 H1015.8 a34.4 38.4 0 0 1 34.4 38.4 V691.4 a39.4 28.4 0 0 1 -39.4 28.4 H829.8 a39.4 28.4 0 0 1 -39.4 -28.4 Z" fill="none" stroke="#2b3849" stroke-width="1.2"/>
    <path d="M792.6 252.4 a32.4 36.4 0 0 1 32.4 -36.4 H1015.6 a32.4 36.4 0 0 1 32.4 36.4 V691.0 a37.4 26.4 0 0 1 -37.4 26.4 H830.0 a37.4 26.4 0 0 1 -37.4 -26.4 Z" fill="none" stroke="#141c28" stroke-width="1.6"/>
    <path d="M794.8 252.0 a30.4 34.4 0 0 1 30.4 -34.4 H1015.4 a30.4 34.4 0 0 1 30.4 34.4 V690.3 a33 22.5 0 0 1 -33 22.5 H827.8 a33 22.5 0 0 1 -33 -22.5 Z" fill="#020304"/>
    <path d="M794.4 252.1 a30.8 34.8 0 0 1 30.8 -34.8 H1015.4 a30.8 34.8 0 0 1 30.8 34.8 V494.8 a33 22.5 0 0 1 -33 22.5 H827.4 a33 22.5 0 0 1 -33 -22.5 Z" fill="none" stroke="url(#pTopLine)" stroke-width="1"/>
    <!-- screen -->
    <g clip-path="url(#pScreen)">
      <rect x="803" y="225" width="234" height="477" fill="#f3f5f6"/>
      <rect x="803" y="225" width="234" height="121.4" fill="url(#pHdr)"/>
      <rect x="803" y="289" width="234" height="57.4" fill="url(#pHdr2)"/>
      <rect x="803" y="288.4" width="234" height="1.1" fill="#7fc47f" opacity=".75"/>
      <!-- cards -->
      <rect x="812" y="354.4" width="230" height="130.6" rx="3" fill="#fff" stroke="#e4e8eb" stroke-width=".8"/>
      <rect x="812" y="495.2" width="230" height="65.8" rx="3" fill="#fff" stroke="#e4e8eb" stroke-width=".8"/>
      <rect x="812" y="568.5" width="230" height="110" rx="3" fill="#fdfdfd" stroke="#e4e8eb" stroke-width=".8"/>
      <rect x="803" y="666.6" width="234" height="36" fill="#126e2d"/>
    </g>
    <!-- notch -->
    <path d="M851 224.6 H988.6 V225.6 C985.6 225.6 984 227 984 230 V233 C984 241 979 244.8 971 244.8 H868 C860 244.8 855.6 241 855.6 233 V230 C855.6 227 854 225.6 851 225.6 Z" fill="#030405"/>
    <rect x="903.6" y="229.4" width="32.6" height="3.8" rx="1.9" fill="#0d1826"/>
    <circle cx="948.4" cy="231.2" r="2.8" fill="#0d1a44"/><circle cx="948.4" cy="231.2" r="1.5" fill="#1f46c8"/>
    <!-- status -->
    <text x="818.4" y="243.4" font-size="9.6" font-weight="bold" fill="#eef8ea" textLength="27.4" lengthAdjust="spacingAndGlyphs">0.:233</text>
    <g fill="#fff"><rect x="983" y="241.4" width="1.6" height="2"/><rect x="985.4" y="240.4" width="1.6" height="3"/><rect x="987.8" y="239.2" width="1.6" height="4.2"/><rect x="990.2" y="237.8" width="1.8" height="5.6"/><rect x="992.6" y="237.2" width="1" height="6.2"/></g>
    <g fill="none" stroke="#fff" stroke-width="1.3" stroke-linecap="round"><path d="M998 238.6 a6.4 6.4 0 0 1 9 0"/><path d="M999.9 240.5 a3.8 3.8 0 0 1 5.2 0"/></g><circle cx="1002.5" cy="242.3" r="1" fill="#fff"/>
    <rect x="1011" y="236.8" width="13" height="5.6" rx="1.2" fill="#fff"/>
    <!-- title row -->
    <g fill="#fff">
      <path fill-rule="evenodd" d="M818.2 265.500 v-2 a4.900 5.200 0 0 1 9.800 0 v2 z M821.300 265.500 v-1.300 a1.800 1.900 0 0 1 3.600 0 v1.300 z"/>
      <path d="M815.600 266.300 q3.750 1.900 7.500 .5 t7.500 -.5 v3.300 q-3.750 -1.500 -7.500 0 t-7.500 0 z"/>
      <path d="M815.600 270.700 q3.750 1.500 7.500 .3 t7.500 -.3 v3.300 h-15 z"/>
    </g>
    <text x="840.8" y="271.8" font-size="15.2" font-weight="bold" fill="#fff" textLength="89.6" lengthAdjust="spacingAndGlyphs">Solar Energy</text>
    <g fill="#fff"><circle cx="1017" cy="262.4" r="3.8"/><path d="M1010 274.4 v-3.4 q0 -4.2 4.4 -4.4 h5.6 q4.4 .2 5 4.4 v3.4 z"/><path d="M1006.8 266.6 l4.4 1.2 v2.6 l-4.4 -2.6 z"/></g>
    <!-- power row -->
    <text x="818.8" y="319.2" font-size="28.6" font-weight="bold" fill="#fff" textLength="45" lengthAdjust="spacingAndGlyphs">8.6</text>
    <text x="867" y="319.2" font-size="16.6" fill="#fff" stroke="#fff" stroke-width=".3" textLength="30.4" lengthAdjust="spacingAndGlyphs">KW</text>
    <text x="842.6" y="334" font-size="11.5" fill="#e9f6e6" textLength="64" lengthAdjust="spacingAndGlyphs">Solar Power</text>
    <rect x="955.2" y="301.6" width="27.4" height="30.2" rx="2" fill="#fff" opacity=".33"/>
    <g fill="#fff">
      <path d="M961.2 309.8 q3.4 -.2 5.4 -1.4 l2 -2.4 l2 2.4 q2 1.2 5.4 1.4 q-.6 2.4 -7.4 2.6 q-6.8 -.2 -7.4 -2.600 z"/>
      <path d="M959.2 316.2 q2.600 -1.600 4.400 .6 q1.600 -3.200 5 -3.200 q3.400 0 5 3.200 q1.800 -2.200 4.200 -.6 q.6 5.400 -2.600 8.200 q-3 1.800 -6.600 1.800 q-3.600 0 -6.600 -1.800 q-3.200 -2.800 -2.800 -8.200 z M966 324.600 v-3.600 q0 -2.800 2.600 -2.800 q2.600 0 2.600 2.800 v3.600 l1.600 -.4 v-3.400 q0 -4.400 -4.200 -4.400 q-4.200 0 -4.200 4.400 v3.400 z"/>
    </g>
    <text x="989.4" y="319.4" font-size="14" font-weight="bold" fill="#fff" textLength="31.4" lengthAdjust="spacingAndGlyphs">Solar</text>
    <!-- production card -->
    <text x="820.8" y="377" font-size="12" font-weight="bold" fill="#14262e" textLength="144.6" lengthAdjust="spacingAndGlyphs">Production &amp; Consumption</text>
    <path d="M1015.6 363.8 l4.600 4.500 l-4.600 4.500" fill="none" stroke="#7d878d" stroke-width="1.3" stroke-linecap="round" stroke-linejoin="round"/>
    <g stroke="#e3e6e9" stroke-width="1"><line x1="822.6" y1="389.8" x2="1025" y2="389.8"/><line x1="822.6" y1="414.200" x2="1025" y2="414.200"/><line x1="822.6" y1="438.5" x2="1025" y2="438.5"/></g>
    <path d="M889.0 437.0 C889.7 435.2 891.7 429.8 893.0 426.0 C894.3 422.2 895.5 417.1 897.0 414.0 C898.5 410.9 900.4 409.1 902.0 407.5 C903.6 405.9 904.7 405.4 906.7 404.4 C908.7 403.4 911.6 402.2 914.0 401.6 C916.4 401.0 918.8 400.7 921.3 400.7 C923.8 400.7 926.5 401.0 929.0 401.6 C931.5 402.2 934.0 403.2 936.0 404.4 C938.0 405.6 939.4 407.0 941.0 408.6 C942.6 410.2 943.7 412.3 945.7 414.0 C947.7 415.7 950.5 417.2 953.0 418.6 C955.5 420.1 957.6 421.0 960.4 422.7 C963.2 424.4 967.4 426.4 970.0 428.8 C972.6 431.2 974.0 434.1 976.0 437.0 C978.0 439.9 979.6 443.4 982.3 445.9 C985.0 448.4 989.0 450.3 992.0 452.0 C995.0 453.7 998.7 455.3 1000.0 456.0 L1000.0 456.8 L889.0 456.8 Z" fill="url(#mBack)"/>
    <path d="M822.6 456.0 C823.3 455.8 825.4 455.3 827.0 454.6 C828.6 453.9 829.8 453.0 832.0 451.6 C834.2 450.2 837.3 447.6 840.0 446.0 C842.7 444.4 845.8 442.6 848.0 442.0 C850.2 441.4 851.3 441.9 853.0 442.6 C854.7 443.3 855.5 446.9 858.0 446.0 C860.5 445.1 864.8 439.7 868.0 437.0 C871.2 434.3 874.6 430.9 877.4 430.0 C880.2 429.1 882.6 430.3 885.0 431.5 C887.4 432.7 889.7 437.1 892.0 437.0 C894.3 436.9 896.5 433.0 899.0 431.0 C901.5 429.0 903.9 427.2 906.7 425.0 C909.5 422.8 912.8 420.0 916.0 418.0 C919.2 416.0 922.8 413.8 926.0 413.0 C929.2 412.2 932.2 412.8 935.0 413.4 C937.8 414.0 940.7 414.5 943.0 416.6 C945.3 418.7 946.9 422.8 949.0 426.0 C951.1 429.2 952.8 433.5 955.5 436.0 C958.2 438.5 961.8 439.6 965.0 441.0 C968.2 442.4 971.2 443.8 975.0 444.6 C978.8 445.4 983.9 445.5 988.0 446.0 C992.1 446.5 996.7 446.7 999.4 447.4 C1002.1 448.1 1002.6 449.0 1004.0 450.0 C1005.4 451.0 1006.5 452.5 1008.0 453.4 C1009.5 454.3 1011.2 454.7 1013.0 455.2 C1014.8 455.7 1018.0 456.0 1019.0 456.2 L1019.0 456.8 L822.6 456.8 Z" fill="url(#mMain)"/>
    <path d="M822.6 456.0 C823.3 455.8 825.4 455.3 827.0 454.6 C828.6 453.9 829.8 453.0 832.0 451.6 C834.2 450.2 837.3 447.6 840.0 446.0 C842.7 444.4 845.8 442.6 848.0 442.0 C850.2 441.4 851.3 441.9 853.0 442.6 C854.7 443.3 855.5 446.9 858.0 446.0 C860.5 445.1 864.8 439.7 868.0 437.0 C871.2 434.3 874.6 430.9 877.4 430.0 C880.2 429.1 882.6 430.3 885.0 431.5 C887.4 432.7 889.7 437.1 892.0 437.0 C894.3 436.9 896.5 433.0 899.0 431.0 C901.5 429.0 903.9 427.2 906.7 425.0 C909.5 422.8 912.8 420.0 916.0 418.0 C919.2 416.0 922.8 413.8 926.0 413.0 C929.2 412.2 932.2 412.8 935.0 413.4 C937.8 414.0 940.7 414.5 943.0 416.6 C945.3 418.7 946.9 422.8 949.0 426.0 C951.1 429.2 952.8 433.5 955.5 436.0 C958.2 438.5 961.8 439.6 965.0 441.0 C968.2 442.4 971.2 443.8 975.0 444.6 C978.8 445.4 983.9 445.5 988.0 446.0 C992.1 446.5 996.7 446.7 999.4 447.4 C1002.1 448.1 1002.6 449.0 1004.0 450.0 C1005.4 451.0 1006.5 452.5 1008.0 453.4 C1009.5 454.3 1011.2 454.7 1013.0 455.2 C1014.8 455.7 1018.0 456.0 1019.0 456.2 L1019.0 456.8 L822.6 456.8 Z" fill="url(#mTeal)"/>
    <path d="M838.0 456.0 C840.0 455.5 846.3 454.3 850.0 453.0 C853.7 451.7 856.3 450.5 860.0 448.0 C863.7 445.5 868.3 442.0 872.0 438.0 C875.7 434.0 879.0 428.2 882.0 424.0 C885.0 419.8 887.2 415.7 890.0 413.0 C892.8 410.3 895.7 409.1 899.0 408.0 C902.3 406.9 906.2 406.4 910.0 406.6 C913.8 406.8 918.0 407.8 922.0 409.0 C926.0 410.2 930.3 411.5 934.0 414.0 C937.7 416.5 940.5 420.0 944.0 424.0 C947.5 428.0 951.0 434.3 955.0 438.0 C959.0 441.7 963.5 443.8 968.0 446.0 C972.5 448.2 976.7 449.4 982.0 451.0 C987.3 452.6 997.0 454.8 1000.0 455.6" fill="none" stroke="#d6cc24" stroke-width="1.3"/>
    <path d="M848.0 442.0 C848.8 442.2 851.3 442.4 853.0 443.0 C854.7 443.6 856.0 445.5 858.0 445.4 C860.0 445.3 862.6 443.5 865.0 442.5 C867.4 441.5 868.9 440.9 872.6 439.6 C876.3 438.3 883.6 435.5 887.0 434.9 C890.4 434.3 891.0 436.6 893.0 436.0 C895.0 435.4 896.7 432.8 899.0 431.0 C901.3 429.2 903.9 427.2 906.7 425.0 C909.5 422.8 912.8 420.0 916.0 418.0 C919.2 416.0 922.8 414.0 926.0 413.0 C929.2 412.0 932.2 412.0 935.0 412.0 C937.8 412.0 940.5 412.5 943.0 413.0 C945.5 413.5 947.7 414.0 950.0 415.0 C952.3 416.0 954.7 417.5 957.0 419.0 C959.3 420.5 961.5 422.0 964.0 424.0 C966.5 426.0 969.3 428.2 972.0 431.0 C974.7 433.8 977.0 437.8 980.0 441.0 C983.0 444.2 986.7 447.5 990.0 450.0 C993.3 452.5 998.3 454.8 1000.0 455.8" fill="none" stroke="#f0a21e" stroke-width="1.3"/>
    <g font-size="11" fill="#2a3d43" stroke="#2a3d43" stroke-width=".3">
      <text x="840.8" y="473.4" textLength="24" lengthAdjust="spacingAndGlyphs">6 AM</text>
      <text x="909.6" y="473.4" textLength="26.600" lengthAdjust="spacingAndGlyphs">12 PM</text>
      <text x="981.6" y="473.4" textLength="23.200" lengthAdjust="spacingAndGlyphs">6 PM</text>
    </g>
    <!-- battery card -->
    <ellipse cx="839" cy="542" rx="16" ry="2.600" fill="#7f94b0" opacity=".55" filter="url(#pblur)"/>
    <rect x="832.8" y="500.700" width="11.4" height="6" rx="1.600" fill="#1f7d1a"/>
    <rect x="838.6" y="500.700" width="5.600" height="6" rx="1.600" fill="#78cc28"/>
    <rect x="825.9" y="505" width="24.600" height="36.600" rx="3.600" ry="3.400" fill="#2f9a24"/>
    <rect x="841" y="509" width="9.500" height="30" fill="#4bb526"/>
    <rect x="826.4" y="518" width="14.600" height="20.400" fill="#14691a"/>
    <path d="M825.9 508.400 a3.600 3.400 0 0 1 3.600 -3.400 h17.400 a3.600 3.400 0 0 1 3.600 3.400 v1.400 q-12.300 2.800 -24.600 0 z" fill="#b4ea3e"/>
    <path d="M825.9 536.800 q12.300 2.400 24.600 0 v1.400 a3.600 3.400 0 0 1 -3.600 3.400 h-17.400 a3.600 3.400 0 0 1 -3.600 -3.400 z" fill="#aee62e"/>
    <text x="864.8" y="518.6" font-size="12.6" font-weight="bold" fill="#14262e" textLength="40.8" lengthAdjust="spacingAndGlyphs">Battery</text>
    <path d="M864 527.8 H965.4 L973 536.4 H1022 V537.4 H864 Z" fill="url(#pBar)"/>
    <path d="M972 536.5 H1022 V537.6 H972 Z" fill="#7a8a92"/>
    <g fill="#d8f2c0" opacity=".8"><rect x="890.6" y="531.4" width="1" height="2.4"/><rect x="917" y="531.4" width="1" height="2.4"/><rect x="943.4" y="531.4" width="1" height="2.4"/></g>
    <ellipse cx="999.6" cy="531" rx="9.5" ry="1.8" fill="#22343c" opacity=".75" filter="url(#pblur)"/>
    <path d="M986.8 502 H1013.6 L1019 507.4 V522 a5 5 0 0 1 -5 5 H986.8 a5 5 0 0 1 -5 -5 V507 a5 5 0 0 1 5 -5 Z" fill="#2f9631"/>
    <path d="M1013.6 502 L1019 507.4 H1015 a1.4 1.4 0 0 1 -1.400 -1.400 Z" fill="#e8f6e4"/>
    <text x="986.6" y="519.4" font-size="12.4" font-weight="bold" fill="#fff" textLength="16.600" lengthAdjust="spacingAndGlyphs">78</text>
    <text x="1004" y="519.4" font-size="8" font-weight="bold" fill="#fff" textLength="8.4" lengthAdjust="spacingAndGlyphs">%</text>
    <text x="864.8" y="553.3" font-size="12" fill="#2a3d43" stroke="#2a3d43" stroke-width=".15" textLength="84.6" lengthAdjust="spacingAndGlyphs">Backup 8h 20m</text>
    <!-- home usage -->
    <path d="M839 578.2 L856.2 592.1 H853 V606.8 H843.5 V596.3 q0 -2 -2 -2 h-5 q-2 0 -2 2 V606.8 H825.2 V592.1 H822 Z" fill="#2e8d35"/>
    <text x="864.8" y="596.6" font-size="12.6" font-weight="bold" fill="#14262e" textLength="71.8" lengthAdjust="spacingAndGlyphs">Home Usage</text>
    <text x="974.4" y="599" font-size="19" fill="#14262e" stroke="#14262e" stroke-width=".6" textLength="27.4" lengthAdjust="spacingAndGlyphs">5.2</text>
    <text x="1003" y="599" font-size="9.4" fill="#14262e" stroke="#14262e" stroke-width=".3" textLength="17.800" lengthAdjust="spacingAndGlyphs">KW</text>
    <line x1="822" y1="616.6" x2="1025" y2="616.6" stroke="#e0e4e7" stroke-width="1"/>
    <g fill="none" stroke="#41a638" stroke-width="1.8" stroke-linecap="round" stroke-linejoin="round">
      <circle cx="838.8" cy="630.5" r="3.2"/>
      <path d="M834.6 633.7 L844.8 634.1 M835.5 633.7 L827.4 639.0 M844.4 638.5 L850.2 643.3 M828.0 643.9 L836.8 642.3 L843.9 642.3"/>
      <path d="M836.1 633.7 L831.9 656.8 M841.7 633.7 L845.3 656.8"/>
      <path d="M835.0 650.4 L841.7 648.0 M836.1 646.2 L842.7 651.6" stroke-width="1.26"/>
    </g>
    <text x="864.8" y="645.4" font-size="12.6" font-weight="bold" fill="#14262e" textLength="64.6" lengthAdjust="spacingAndGlyphs">Grid Status</text>
    <text x="973.6" y="647.8" font-size="19" fill="#14262e" stroke="#14262e" stroke-width=".6" textLength="27.8" lengthAdjust="spacingAndGlyphs">0.3</text>
    <text x="1003" y="647.8" font-size="9.4" fill="#14262e" stroke="#14262e" stroke-width=".3" textLength="17.800" lengthAdjust="spacingAndGlyphs">KW</text>
    <!-- nav icons -->
    <g fill="#fff">
      <rect x="844.2" y="679" width="9" height="2"/><rect x="844.2" y="682.4" width="6" height="2.6"/><rect x="844.2" y="686.4" width="9" height="2.4"/>
      <path d="M857 679.400 v9.400 l-6.200 -4.700 z"/>
    </g>
    <circle cx="920.9" cy="683.800" r="5.400" fill="none" stroke="#fff" stroke-width="1.4"/><circle cx="920.9" cy="683.800" r="2.400" fill="#fff"/><circle cx="921.5" cy="683.800" r="1" fill="#126e2d"/>
    <path d="M987.4 681.4 l2 -2.200 h4.600 l2 2.200 v5.400 l2.200 2.600 M987.400 681.400 v4.800 l-1.400 1.800 h7.600" fill="none" stroke="#fff" stroke-width="1.5" stroke-linejoin="round" stroke-linecap="round"/>
  </svg>
</div>
</body>
</html>
